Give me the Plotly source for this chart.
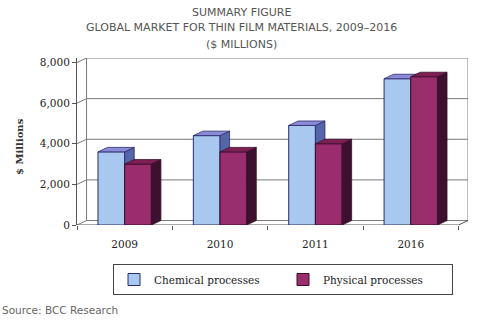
import plotly.graph_objects as go

categories = ["2009", "2010", "2011", "2016"]
chemical = [3600, 4400, 4900, 7200]
physical = [3000, 3600, 4000, 7300]
y_ticks = [0, 2000, 4000, 6000, 8000]
y_ticklabels = ["0", "2,000", "4,000", "6,000", "8,000"]

DX = 0.10   # depth offset in category units
DY = 220    # depth offset in value units
BW = 0.28   # bar width
SERIF = "DejaVu Serif"
SANS = "DejaVu Sans"

fig = go.Figure()

idx = list(range(len(categories)))
n = len(categories)

# back wall grid lines / wall edges (bottom layer)
for t in y_ticks:
    fig.add_trace(go.Scatter(
        x=[-0.5, -0.5 + DX, n - 0.5 + DX],
        y=[t, t + DY, t + DY], mode="lines",
        line=dict(color="#7a7a7a", width=1), showlegend=False, hoverinfo="skip"))
for xb in [-0.5 + DX, n - 0.5 + DX]:
    fig.add_trace(go.Scatter(x=[xb, xb], y=[DY, y_ticks[-1] + DY], mode="lines",
                             line=dict(color="#7a7a7a", width=1), showlegend=False, hoverinfo="skip"))
fig.add_trace(go.Scatter(
    x=[-0.5, n - 0.5, n - 0.5 + DX],
    y=[0, 0, DY], mode="lines", line=dict(color="#555555", width=1),
    showlegend=False, hoverinfo="skip"))

series = [
    ("Chemical processes", chemical, -BW / 2, "#a9c8f0", "#8a8ad8", "#5565a8", "#2b2b6b", "x2", "y2"),
    ("Physical processes", physical, BW / 2, "#9a2d6c", "#7e2054", "#3e1030", "#3a0f2c", "x3", "y3"),
]

for name, vals, off, front, top, side, edge, xa, ya in series:
    xs = [i + off for i in idx]
    fig.add_trace(go.Bar(
        x=xs, y=vals, width=BW, name=name, xaxis=xa, yaxis=ya,
        marker=dict(color=front, line=dict(color=edge, width=1))))
    for x, v in zip(xs, vals):
        x0, x1 = x - BW / 2, x + BW / 2
        fig.add_trace(go.Scatter(
            x=[x1, x1, x1 + DX, x1 + DX, x1], y=[0, v, v + DY, DY, 0],
            xaxis=xa, yaxis=ya,
            fill="toself", fillcolor=side, mode="lines",
            line=dict(color=edge, width=0.8), showlegend=False, hoverinfo="skip"))
        fig.add_trace(go.Scatter(
            x=[x0, x1, x1 + DX, x0 + DX, x0], y=[v, v, v + DY, v + DY, v],
            xaxis=xa, yaxis=ya,
            fill="toself", fillcolor=top, mode="lines",
            line=dict(color=edge, width=0.8), showlegend=False, hoverinfo="skip"))

PLOT_TOP, PLOT_BOT, PLOT_L, PLOT_W = 58, 225, 77, 391
def py(pix):
    return (PLOT_BOT - pix) / (PLOT_BOT - PLOT_TOP)
def px(pix):
    return (pix - PLOT_L) / PLOT_W

xrange_ = [-0.5, n - 0.5 + DX]
yrange_ = [0, y_ticks[-1] + DY]
hidden_x = dict(range=xrange_, overlaying="x", visible=False, fixedrange=True)
hidden_y = dict(range=yrange_, overlaying="y", visible=False, fixedrange=True)

fig.update_layout(
    width=480, height=323,
    margin=dict(l=77, r=12, t=58, b=98),
    paper_bgcolor="white", plot_bgcolor="white",
    barmode="overlay",
    showlegend=True,
    legend=dict(
        orientation="h", x=px(283), xanchor="center", y=py(264), yanchor="top",
        bordercolor="#444444", borderwidth=1,
        font=dict(family=SERIF, size=10.5, color="#222222"),
        entrywidth=124, itemwidth=30, traceorder="normal",
    ),
    xaxis=dict(
        range=xrange_, tickvals=idx, ticktext=categories,
        showgrid=False, zeroline=False, showline=False, ticks="",
        ticklabelstandoff=11,
        tickfont=dict(family=SERIF, size=10.5, color="#222222"),
        minor=dict(tickvals=[i - 0.5 for i in range(n + 1)], ticks="outside",
                   ticklen=4, tickcolor="#555555"),
        fixedrange=True,
    ),
    yaxis=dict(
        range=yrange_, tickvals=y_ticks, ticktext=y_ticklabels,
        showgrid=False, zeroline=False, showline=True, linecolor="#555555",
        ticks="outside", ticklen=4, tickcolor="#555555",
        tickfont=dict(family=SERIF, size=10.5, color="#222222"),
        fixedrange=True,
    ),
    xaxis2=hidden_x, yaxis2=hidden_y,
    xaxis3=hidden_x, yaxis3=hidden_y,
    annotations=[
        dict(text="SUMMARY FIGURE", x=px(241), xref="paper", xanchor="center",
             y=py(12), yref="paper", yanchor="middle", showarrow=False,
             font=dict(family=SANS, size=11, color="#555555")),
        dict(text="GLOBAL MARKET FOR THIN FILM MATERIALS, 2009–2016", x=px(241), xref="paper",
             xanchor="center", y=py(28), yref="paper", yanchor="middle", showarrow=False,
             font=dict(family=SANS, size=11, color="#555555")),
        dict(text="($ MILLIONS)", x=px(241), xref="paper", xanchor="center",
             y=py(44), yref="paper", yanchor="middle", showarrow=False,
             font=dict(family=SANS, size=11, color="#555555")),
        dict(text="<b>$ Millions</b>", x=px(19), xref="paper", xanchor="center",
             y=py(147), yref="paper", yanchor="middle",
             textangle=-90, showarrow=False,
             font=dict(family=SERIF, size=10, color="#333333")),
        dict(text="Source: BCC Research", x=px(0), xref="paper", xanchor="left",
             y=py(310), yref="paper", yanchor="middle", showarrow=False,
             font=dict(family=SANS, size=10.5, color="#666666")),
    ],
)

fig.write_html("out.html")
